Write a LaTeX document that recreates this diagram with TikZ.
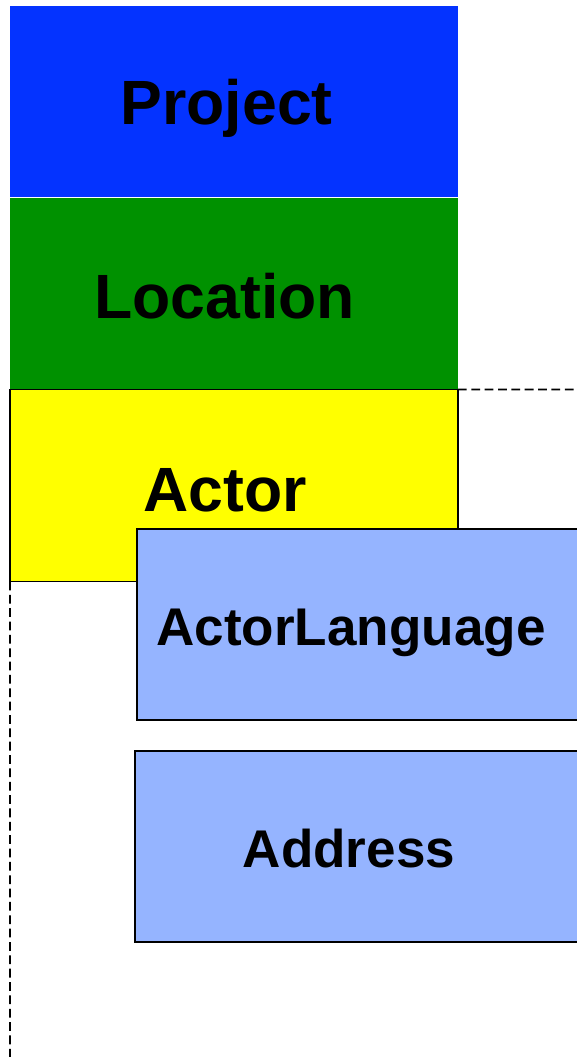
\documentclass[tikz,border=0pt]{standalone}
\usepackage{fontspec}
\setmainfont{Liberation Sans}
\usetikzlibrary{calc}

\definecolor{projblue}{RGB}{4,51,255}
\definecolor{locgreen}{RGB}{0,145,0}
\definecolor{actyellow}{RGB}{255,255,0}
\definecolor{subblue}{RGB}{149,180,255}

\tikzset{
	bigbox/.style={rectangle, inner sep=0pt, outer sep=0pt, minimum width=8.96cm, minimum height=3.84cm},
	subbox/.style={rectangle, draw=black, line width=1pt, fill=subblue, inner sep=0pt, outer sep=0pt, minimum width=9.6cm, minimum height=3.82cm, anchor=north west},
	bigtext/.style={font=\fontsize{35.6}{40}\selectfont\bfseries, inner sep=0pt, anchor=base},
	subtext/.style={font=\fontsize{30.2}{34}\selectfont\bfseries, inner sep=0pt, anchor=base},
	grpline/.style={line width=1pt, dash pattern=on 5pt off 2.6pt}
}

\begin{document}
\begin{tikzpicture}[x=0.02cm, y=-0.02cm]
				\useasboundingbox (0,0) rectangle (577,1057);
				\clip (0,0) rectangle (577,1057);
				
				\node[bigbox, fill=projblue] (project) at (234,101.5) {};
				\node[bigtext] (projecttxt) at ($(project.center)+(-7.3,23.5)$) {Project};
				
				\node[bigbox, fill=locgreen] (location) at (234,293.5) {};
				\node[bigtext] (locationtxt) at ($(location.center)+(-9.5,24.5)$) {Location};
				
				\node[bigbox, fill=actyellow, draw=black, line width=1pt] (actor) at (234,485.5) {};
				\node[bigtext] (actortxt) at ($(actor.center)+(-9,26.2)$) {Actor};
				
				\coordinate (grpne) at (600,389.5);
				\coordinate (grpsw) at (10,1080);
				\draw[grpline] (actor.north east) -- (grpne);
				\draw[grpline] (actor.south west) -- (grpsw);
				
				\node[subbox] (actlang) at (137,529) {};
				\node[subtext] (actlangtxt) at ($(actlang.north west)+(214,116)$) {ActorLanguage};
				
				\node[subbox] (address) at (135,751) {};
				\node[subtext] (addresstxt) at ($(address.north west)+(214,116)$) {Address};
			\end{tikzpicture}
\end{document}
